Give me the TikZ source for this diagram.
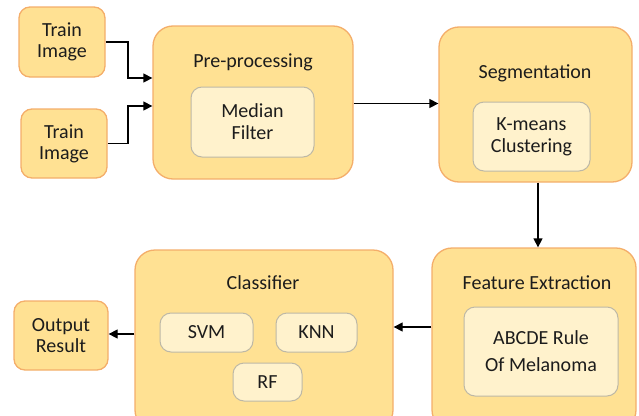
\documentclass[tikz,border=0pt]{standalone}
\usepackage{fontspec}
\setmainfont{Carlito}
\usetikzlibrary{arrows.meta}
\definecolor{outerfill}{HTML}{FFE193}
\definecolor{outerdraw}{HTML}{F4AE6A}
\definecolor{innerfill}{HTML}{FFF2CC}
\definecolor{innerdraw}{HTML}{BDB8A6}
\definecolor{txt}{HTML}{1C1C1C}
\tikzset{
  x=1pt, y=-1pt,
  bigbox/.style={draw=outerdraw, fill=outerfill, line width=1.3pt, rounded corners=20pt, inner sep=0pt},
  smallbox/.style={draw=outerdraw, fill=outerfill, line width=1.3pt, rounded corners=11pt, inner sep=0pt, align=center, text=txt, font=\fontsize{20}{21}\selectfont},
  innerbox/.style={draw=innerdraw, fill=innerfill, line width=1pt, rounded corners=11pt, inner sep=0pt, align=center, text=txt, font=\fontsize{20}{22}\selectfont},
  title/.style={text=txt, font=\fontsize{20}{22}\selectfont, inner sep=0pt},
  arr/.style={draw=black, line width=1.3pt, -{Triangle[length=9pt,width=9pt]}},
}
\begin{document}
\begin{tikzpicture}
\useasboundingbox (0,0) rectangle (639,415);
\clip (0,0) rectangle (639,415);
% input boxes
\node[smallbox, minimum width=86pt, minimum height=70pt] (ti1) at (62,42) {Train\\Image};
\node[smallbox, minimum width=86pt, minimum height=69pt] (ti2) at (64,143.5) {Train\\Image};
% pre-processing
\node[bigbox, minimum width=200pt, minimum height=153pt] (pre) at (253,102.5) {};
\node[title] (pret) at (253,62) {Pre-processing};
\node[innerbox, minimum width=123pt, minimum height=70pt] (med) at (252.5,122) {Median\\Filter};
% segmentation
\node[bigbox, minimum width=193pt, minimum height=155pt] (seg) at (535.5,104.5) {};
\node[title] (segt) at (535,73) {Segmentation};
\node[innerbox, minimum width=117pt, minimum height=69pt] (km) at (531.5,136.5) {K-means\\Clustering};
% feature extraction
\node[bigbox, minimum width=204pt, minimum height=182pt] (feat) at (534,339) {};
\node[title] (featt) at (537,283) {Feature Extraction};
\node[innerbox, minimum width=154pt, minimum height=89pt, font=\fontsize{20}{27}\selectfont] (abc) at (541,351.5) {ABCDE Rule\\Of Melanoma};
% classifier
\node[bigbox, minimum width=258pt, minimum height=180pt] (cls) at (264,340) {};
\node[title] (clst) at (263,283) {Classifier};
\node[innerbox, minimum width=93pt, minimum height=39pt] (svm) at (206.5,332.5) {SVM};
\node[innerbox, minimum width=81pt, minimum height=39pt] (knn) at (316.5,332.5) {KNN};
\node[innerbox, minimum width=69pt, minimum height=38pt] (rf) at (267.5,382) {RF};
% output
\node[smallbox, minimum width=94pt, minimum height=69pt] (out) at (61,335.5) {Output\\Result};
% connectors
\coordinate (j1) at (128,78);
\coordinate (j2) at (128,106);
\draw[arr] (ti1.east) -| (j1) -- (j1 -| pre.west);
\draw[arr] (ti2.east) -| (j2) -- (j2 -| pre.west);
\draw[arr] ([yshift=-1pt]pre.east) -- ([yshift=-1pt]pre.east -| seg.west);
\draw[arr] ([xshift=2.5pt]seg.south) -- ([xshift=2.5pt]seg.south |- feat.north);
\draw[arr] ([yshift=12pt]feat.west) -- ([yshift=12pt]feat.west -| cls.east);
\draw[arr] ([yshift=6pt]cls.west) -- ([yshift=6pt]cls.west -| out.east);
\end{tikzpicture}
\end{document}
